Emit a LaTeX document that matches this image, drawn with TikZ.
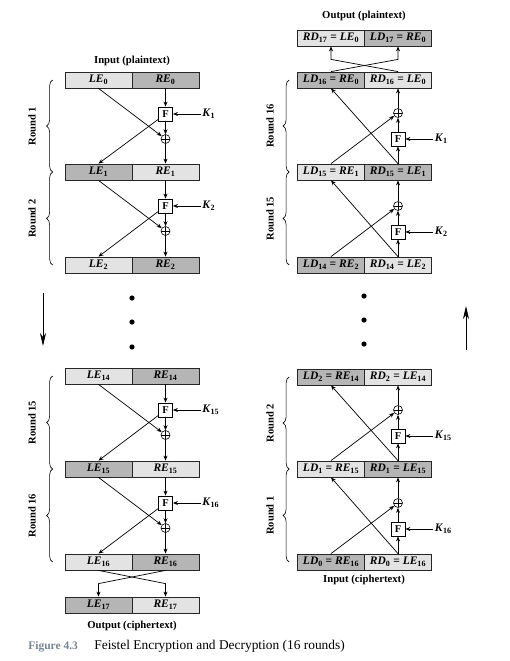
\documentclass[tikz,border=0pt]{standalone}
\usepackage{fontspec}
\setmainfont{Liberation Serif}
\usepackage{xcolor}
\usetikzlibrary{arrows.meta,decorations.pathreplacing,positioning}
\definecolor{boxlight}{gray}{0.89}
\definecolor{boxdark}{gray}{0.71}
\definecolor{capgray}{RGB}{120,132,146}
\newcommand{\term}[2]{\textit{#1}\textsubscript{#2}}

\begin{document}
\begin{tikzpicture}[x=1pt,y=-1pt,
    >={Stealth[length=5pt,width=4pt]},
    line width=0.7pt,
    halfbox/.style={draw=black!85,line width=0.8pt,minimum width=67pt,minimum height=16pt,inner sep=0pt,font=\fontsize{11.5}{13}\selectfont\bfseries},
    lightbox/.style={halfbox,fill=boxlight},
    darkbox/.style={halfbox,fill=boxdark},
    fnode/.style={draw,fill=white,line width=0.8pt,minimum size=14pt,inner sep=0pt,font=\fontsize{10.5}{12}\selectfont\bfseries},
    xornode/.style={draw,circle,fill=white,line width=0.6pt,minimum size=9pt,inner sep=0pt,
        path picture={\draw[line width=0.6pt] (path picture bounding box.north) -- (path picture bounding box.south)
            (path picture bounding box.west) -- (path picture bounding box.east);}},
    keylabel/.style={inner sep=1pt,font=\fontsize{11.5}{13}\selectfont\bfseries},
    roundlabel/.style={rotate=90,font=\fontsize{10.5}{12}\selectfont\bfseries},
    title/.style={font=\fontsize{10.7}{12}\selectfont\bfseries},
    brace/.style={decorate,decoration={brace,amplitude=6pt},line width=0.6pt},
    bigarrow/.style={-{Stealth[length=13pt,width=6pt,inset=4pt]},line width=0.8pt}]
    \useasboundingbox (0,0) rectangle (509,661);

    % Encryption input
    \node[title] (inenc) at (132,61) {Input (plaintext)};
    \node[lightbox] (le0) at (98.5,80) {\term{LE}{0}};
    \node[darkbox] (re0) at (165.5,80) {\term{RE}{0}};

    % Encryption round 1
    \node[fnode] (fe1) at (165.5,114) {F};
    \node[xornode] (xe1) at (165.5,139) {};
    \node[keylabel,right=28pt of fe1] (ke1) {\term{K}{1}};
    \node[darkbox] (le1) at (98.5,172) {\term{LE}{1}};
    \node[lightbox] (re1) at (165.5,172) {\term{RE}{1}};
    \draw[->] (le0.south) -- (xe1);
    \draw[->] (fe1) -- (le1.north);
    \draw[->] (re0) -- (fe1);
    \draw[->] (fe1) -- (xe1);
    \draw[->] (xe1) -- (re1);
    \draw[->] (ke1) -- (fe1);
    \draw[brace] ([xshift=-12pt]le1.west) -- ([xshift=-12pt]le0.west);
    \node[roundlabel] (lab-e1) at (32,126) {Round 1};

    % Encryption round 2
    \node[fnode] (fe2) at (165.5,206) {F};
    \node[xornode] (xe2) at (165.5,231) {};
    \node[keylabel,right=28pt of fe2] (ke2) {\term{K}{2}};
    \node[lightbox] (le2) at (98.5,265) {\term{LE}{2}};
    \node[darkbox] (re2) at (165.5,265) {\term{RE}{2}};
    \draw[->] (le1.south) -- (xe2);
    \draw[->] (fe2) -- (le2.north);
    \draw[->] (re1) -- (fe2);
    \draw[->] (fe2) -- (xe2);
    \draw[->] (xe2) -- (re2);
    \draw[->] (ke2) -- (fe2);
    \draw[brace] ([xshift=-12pt]le2.west) -- ([xshift=-12pt]le1.west);
    \node[roundlabel] (lab-e2) at (32,218.5) {Round 2};

    % Skipped rounds
    \fill (132,298) circle (2.6pt);
    \fill (132,322) circle (2.6pt);
    \fill (132,347) circle (2.6pt);
    \coordinate (encfrom) at (43,293);
    \coordinate (encto) at (43,346);
    \draw[bigarrow] (encfrom) -- (encto);

    % Encryption round 15
    \node[lightbox] (le14) at (98.5,376) {\term{LE}{14}};
    \node[darkbox] (re14) at (165.5,376) {\term{RE}{14}};
    \node[fnode] (fe15) at (165.5,410) {F};
    \node[xornode] (xe15) at (165.5,435) {};
    \node[keylabel,right=28pt of fe15] (ke15) {\term{K}{15}};
    \node[darkbox] (le15) at (98.5,469) {\term{LE}{15}};
    \node[lightbox] (re15) at (165.5,469) {\term{RE}{15}};
    \draw[->] (le14.south) -- (xe15);
    \draw[->] (fe15) -- (le15.north);
    \draw[->] (re14) -- (fe15);
    \draw[->] (fe15) -- (xe15);
    \draw[->] (xe15) -- (re15);
    \draw[->] (ke15) -- (fe15);
    \draw[brace] ([xshift=-12pt]le15.west) -- ([xshift=-12pt]le14.west);
    \node[roundlabel] (lab-e15) at (32,422.5) {Round 15};

    % Encryption round 16
    \node[fnode] (fe16) at (165.5,503) {F};
    \node[xornode] (xe16) at (165.5,528) {};
    \node[keylabel,right=28pt of fe16] (ke16) {\term{K}{16}};
    \node[lightbox] (le16) at (98.5,562) {\term{LE}{16}};
    \node[darkbox] (re16) at (165.5,562) {\term{RE}{16}};
    \draw[->] (le15.south) -- (xe16);
    \draw[->] (fe16) -- (le16.north);
    \draw[->] (re15) -- (fe16);
    \draw[->] (fe16) -- (xe16);
    \draw[->] (xe16) -- (re16);
    \draw[->] (ke16) -- (fe16);
    \draw[brace] ([xshift=-12pt]le16.west) -- ([xshift=-12pt]le15.west);
    \node[roundlabel] (lab-e16) at (32,515.5) {Round 16};

    % Encryption output (swap)
    \node[darkbox] (le17) at (98.5,605) {\term{LE}{17}};
    \node[lightbox] (re17) at (165.5,605) {\term{RE}{17}};
    \draw[->] (le16.south) -- ([yshift=13pt]re17.north) -- (re17.north);
    \draw[->] (re16.south) -- ([yshift=13pt]le17.north) -- (le17.north);
    \node[title] (outenc) at (132,626) {Output (ciphertext)};

    % Decryption output (swap)
    \node[title] (outdec) at (364,16) {Output (plaintext)};
    \node[lightbox] (rd17) at (331,38) {\term{RD}{17} = \term{LE}{0}};
    \node[darkbox] (ld17) at (398,38) {\term{LD}{17} = \term{RE}{0}};
    \node[darkbox] (ld16) at (331,80) {\term{LD}{16} = \term{RE}{0}};
    \node[lightbox] (rd16) at (398,80) {\term{RD}{16} = \term{LE}{0}};
    \draw[->] (ld16.north) -- ([yshift=-13pt]ld17.south) -- (ld17.south);
    \draw[->] (rd16.north) -- ([yshift=-13pt]rd17.south) -- (rd17.south);

    % Decryption round 16
    \node[xornode] (xd16) at (398,113) {};
    \node[fnode] (fd16) at (398,139) {F};
    \node[keylabel,right=28pt of fd16] (kd16) {\term{K}{1}};
    \node[lightbox] (ld15) at (331,172) {\term{LD}{15} = \term{RE}{1}};
    \node[darkbox] (rd15) at (398,172) {\term{RD}{15} = \term{LE}{1}};
    \draw[->] (ld15.north) -- (xd16);
    \draw[->] (rd15.north) -- (ld16.south);
    \draw[->] (rd15) -- (fd16);
    \draw[->] (fd16) -- (xd16);
    \draw[->] (xd16) -- (rd16);
    \draw[->] (kd16) -- (fd16);
    \draw[brace] ([xshift=-8pt]ld15.west) -- ([xshift=-8pt]ld16.west);
    \node[roundlabel] (lab-d16) at (270,126) {Round 16};

    % Decryption round 15
    \node[xornode] (xd15) at (398,206) {};
    \node[fnode] (fd15) at (398,232) {F};
    \node[keylabel,right=28pt of fd15] (kd15) {\term{K}{2}};
    \node[darkbox] (ld14) at (331,265) {\term{LD}{14} = \term{RE}{2}};
    \node[lightbox] (rd14) at (398,265) {\term{RD}{14} = \term{LE}{2}};
    \draw[->] (ld14.north) -- (xd15);
    \draw[->] (rd14.north) -- (ld15.south);
    \draw[->] (rd14) -- (fd15);
    \draw[->] (fd15) -- (xd15);
    \draw[->] (xd15) -- (rd15);
    \draw[->] (kd15) -- (fd15);
    \draw[brace] ([xshift=-8pt]ld14.west) -- ([xshift=-8pt]ld15.west);
    \node[roundlabel] (lab-d15) at (270,218.5) {Round 15};

    % Skipped rounds
    \fill (364,296) circle (2.6pt);
    \fill (364,320) circle (2.6pt);
    \fill (364,344) circle (2.6pt);
    \coordinate (decfrom) at (466,350);
    \coordinate (decto) at (466,306);
    \draw[bigarrow] (decfrom) -- (decto);

    % Decryption round 2
    \node[darkbox] (ld2) at (331,377) {\term{LD}{2} = \term{RE}{14}};
    \node[lightbox] (rd2) at (398,377) {\term{RD}{2} = \term{LE}{14}};
    \node[xornode] (xd2) at (398,410) {};
    \node[fnode] (fd2) at (398,436) {F};
    \node[keylabel,right=28pt of fd2] (kd2) {\term{K}{15}};
    \node[lightbox] (ld1) at (331,469) {\term{LD}{1} = \term{RE}{15}};
    \node[darkbox] (rd1) at (398,469) {\term{RD}{1} = \term{LE}{15}};
    \draw[->] (ld1.north) -- (xd2);
    \draw[->] (rd1.north) -- (ld2.south);
    \draw[->] (rd1) -- (fd2);
    \draw[->] (fd2) -- (xd2);
    \draw[->] (xd2) -- (rd2);
    \draw[->] (kd2) -- (fd2);
    \draw[brace] ([xshift=-8pt]ld1.west) -- ([xshift=-8pt]ld2.west);
    \node[roundlabel] (lab-d2) at (270,423) {Round 2};

    % Decryption round 1
    \node[xornode] (xd1) at (398,503) {};
    \node[fnode] (fd1) at (398,529) {F};
    \node[keylabel,right=28pt of fd1] (kd1) {\term{K}{16}};
    \node[darkbox] (ld0) at (331,562) {\term{LD}{0} = \term{RE}{16}};
    \node[lightbox] (rd0) at (398,562) {\term{RD}{0} = \term{LE}{16}};
    \draw[->] (ld0.north) -- (xd1);
    \draw[->] (rd0.north) -- (ld1.south);
    \draw[->] (rd0) -- (fd1);
    \draw[->] (fd1) -- (xd1);
    \draw[->] (xd1) -- (rd1);
    \draw[->] (kd1) -- (fd1);
    \draw[brace] ([xshift=-8pt]ld0.west) -- ([xshift=-8pt]ld1.west);
    \node[roundlabel] (lab-d1) at (270,515.5) {Round 1};
    \node[title] (indec) at (364,580) {Input (ciphertext)};

    % Caption
    \node[anchor=base west,inner sep=0pt,text=capgray,font=\fontsize{11.5}{13}\selectfont\bfseries] (fignum) at (28,649) {Figure 4.3};
    \node[anchor=base west,inner sep=0pt,font=\fontsize{13.4}{15}\selectfont] (figcap) at (94,649) {Feistel Encryption and Decryption (16 rounds)};
\end{tikzpicture}
\end{document}
